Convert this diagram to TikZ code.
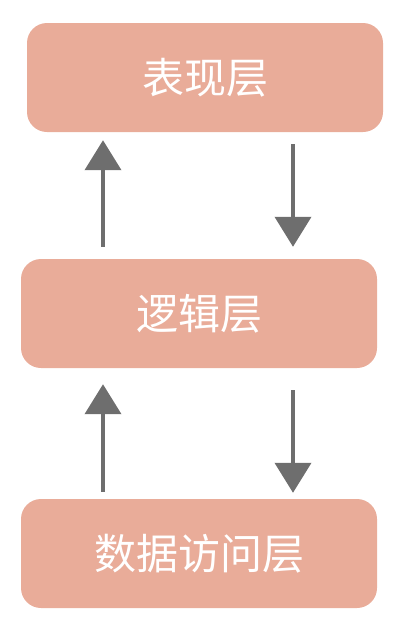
\documentclass[tikz,border=0pt]{standalone}
\usepackage{fontspec}
\newfontfamily\cjk{Noto Sans CJK SC}
\usepackage{tikz}
\usetikzlibrary{
  arrows.meta,
  positioning
}
\definecolor{LayerPink}{RGB}{233,172,153}
\definecolor{ArrowGray}{RGB}{110,110,110}
\tikzset{
  layer/.style={fill=LayerPink,rounded corners=20pt,minimum width=356pt,minimum height=109pt,align=center,text=white,font=\cjk\fontsize{42}{44}\selectfont},
  callarrow/.style={-{Triangle[length=30pt,width=36pt]},line width=4pt,draw=ArrowGray}
}

\begin{document}
\begin{tikzpicture}[x=1pt,y=-1pt]
\useasboundingbox (0,0) rectangle (403,635);
\node[layer] (p) at (205,77.5) {表现层};
\node[layer] (l) at (199,313.5) {逻辑层};
\node[layer] (d) at (199,553.5) {数据访问层};

\draw[callarrow,shorten <=12pt,shorten >=8pt] ([xshift=-96pt]l.north) -- ([xshift=-102pt]p.south);
\draw[callarrow,shorten <=12pt,shorten >=12pt] ([xshift=88pt]p.south) -- ([xshift=94pt]l.north);

\draw[callarrow,shorten <=7pt,shorten >=16pt] ([xshift=-96pt]d.north) -- ([xshift=-96pt]l.south);
\draw[callarrow,shorten <=22pt,shorten >=6pt] ([xshift=94pt]l.south) -- ([xshift=94pt]d.north);
\end{tikzpicture}
\end{document}
